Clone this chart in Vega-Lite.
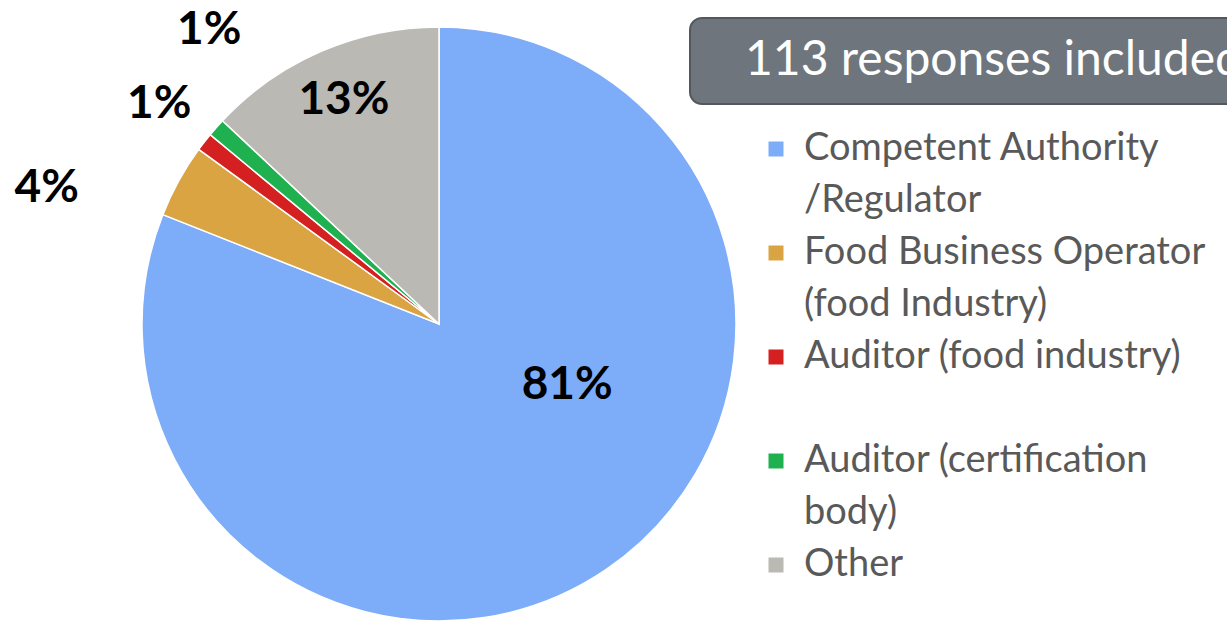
{
  "$schema": "https://vega.github.io/schema/vega-lite/v6.json",
  "padding": 0,
  "background": "white",
  "spacing": 0,
  "bounds": "flush",
  "config": {"view": {"stroke": null}},
  "datasets": {
    "pie": [
      {"cat": "Competent Authority /Regulator", "value": 81, "label": "81%", "order": 1},
      {"cat": "Food Business Operator (food Industry)", "value": 4, "label": "4%", "order": 2},
      {"cat": "Auditor (food industry)", "value": 1, "label": "1%", "order": 3},
      {"cat": "Auditor (certification body)", "value": 1, "label": "1%", "order": 4},
      {"cat": "Other", "value": 13, "label": "13%", "order": 5}
    ],
    "box": [{"text": "113 responses included"}]
  },
  "hconcat": [
    {
      "width": 690,
      "height": 648,
      "data": {"name": "pie"},
      "layer": [
        {
          "mark": {"type": "arc", "outerRadius": 297, "stroke": "#ffffff", "strokeWidth": 1.5, "xOffset": 94},
          "encoding": {
            "theta": {"field": "value", "type": "quantitative", "stack": true},
            "order": {"field": "order", "type": "quantitative"},
            "color": {
              "field": "cat",
              "type": "nominal",
              "scale": {
                "domain": ["Competent Authority /Regulator", "/Regulator", "Food Business Operator (food Industry)", "(food Industry)", "Auditor (food industry)", " ", "Auditor (certification body)", "body)", "Other"],
                "range": ["#7DACF8", "rgba(0,0,0,0)", "#D9A441", "rgba(0,0,0,0)", "#D42020", "rgba(0,0,0,0)", "#1FB050", "rgba(0,0,0,0)", "#BBB9B3"]
              },
              "legend": {
                "orient": "none",
                "legendX": 757,
                "legendY": 130,
                "title": null,
                "padding": 0,
                "symbolType": "square",
                "symbolSize": 225,
                "symbolStrokeWidth": 0,
                "labelFont": "Lato",
                "labelFontSize": 38,
                "labelColor": "#595959",
                "labelOffset": 9,
                "labelLimit": 1000,
                "rowPadding": 14,
                "labelExpr": "datum.label === 'Competent Authority /Regulator' ? 'Competent Authority' : datum.label === 'Food Business Operator (food Industry)' ? 'Food Business Operator' : datum.label === 'Auditor (certification body)' ? 'Auditor (certification' : datum.label"
              }
            }
          }
        },
        {
          "transform": [
            {"stack": "value", "groupby": [], "sort": [{"field": "order", "order": "ascending"}], "as": ["t0", "t1"]},
            {"filter": "datum.cat === 'Competent Authority /Regulator'"}
          ],
          "mark": {"type": "text", "radius": 142, "thetaOffset": 2.016, "xOffset": 94, "font": "Lato", "fontWeight": "bold", "fontSize": 46, "color": "#000000"},
          "encoding": {"theta": {"field": "t0", "type": "quantitative"}, "text": {"field": "label", "type": "nominal"}}
        },
        {
          "transform": [
            {"stack": "value", "groupby": [], "sort": [{"field": "order", "order": "ascending"}], "as": ["t0", "t1"]},
            {"filter": "datum.cat === 'Food Business Operator (food Industry)'"}
          ],
          "mark": {"type": "text", "radius": 415, "thetaOffset": -0.044, "xOffset": 94, "font": "Lato", "fontWeight": "bold", "fontSize": 46, "color": "#000000"},
          "encoding": {"theta": {"field": "t0", "type": "quantitative"}, "text": {"field": "label", "type": "nominal"}}
        },
        {
          "transform": [
            {"stack": "value", "groupby": [], "sort": [{"field": "order", "order": "ascending"}], "as": ["t0", "t1"]},
            {"filter": "datum.cat === 'Auditor (food industry)'"}
          ],
          "mark": {"type": "text", "radius": 356, "thetaOffset": 0.038, "xOffset": 94, "font": "Lato", "fontWeight": "bold", "fontSize": 46, "color": "#000000"},
          "encoding": {"theta": {"field": "t0", "type": "quantitative"}, "text": {"field": "label", "type": "nominal"}}
        },
        {
          "transform": [
            {"stack": "value", "groupby": [], "sort": [{"field": "order", "order": "ascending"}], "as": ["t0", "t1"]},
            {"filter": "datum.cat === 'Auditor (certification body)'"}
          ],
          "mark": {"type": "text", "radius": 373, "thetaOffset": 0.216, "xOffset": 94, "font": "Lato", "fontWeight": "bold", "fontSize": 46, "color": "#000000"},
          "encoding": {"theta": {"field": "t0", "type": "quantitative"}, "text": {"field": "label", "type": "nominal"}}
        },
        {
          "transform": [
            {"stack": "value", "groupby": [], "sort": [{"field": "order", "order": "ascending"}], "as": ["t0", "t1"]},
            {"filter": "datum.cat === 'Other'"}
          ],
          "mark": {"type": "text", "radius": 243, "thetaOffset": 0.415, "xOffset": 94, "font": "Lato", "fontWeight": "bold", "fontSize": 46, "color": "#000000"},
          "encoding": {"theta": {"field": "t0", "type": "quantitative"}, "text": {"field": "label", "type": "nominal"}}
        }
      ]
    },
    {
      "width": 560,
      "height": 86,
      "data": {"name": "box"},
      "layer": [
        {
          "mark": {"type": "rect", "fill": "#6E757C", "stroke": "#52585E", "strokeWidth": 2, "cornerRadius": 12, "yOffset": 18, "y2Offset": 18},
          "encoding": {
            "x": {"datum": 0, "type": "quantitative", "scale": {"domain": [0, 1]}, "axis": null},
            "x2": {"datum": 1},
            "y": {"datum": 1, "type": "quantitative", "scale": {"domain": [0, 1]}, "axis": null},
            "y2": {"datum": 0}
          }
        },
        {
          "mark": {"type": "text", "align": "left", "baseline": "middle", "dx": 55, "yOffset": 18, "fontSize": 48, "font": "Lato", "color": "#ffffff"},
          "encoding": {
            "x": {"datum": 0, "type": "quantitative"},
            "y": {"datum": 0.5, "type": "quantitative"},
            "text": {"field": "text"}
          }
        }
      ]
    }
  ]
}
